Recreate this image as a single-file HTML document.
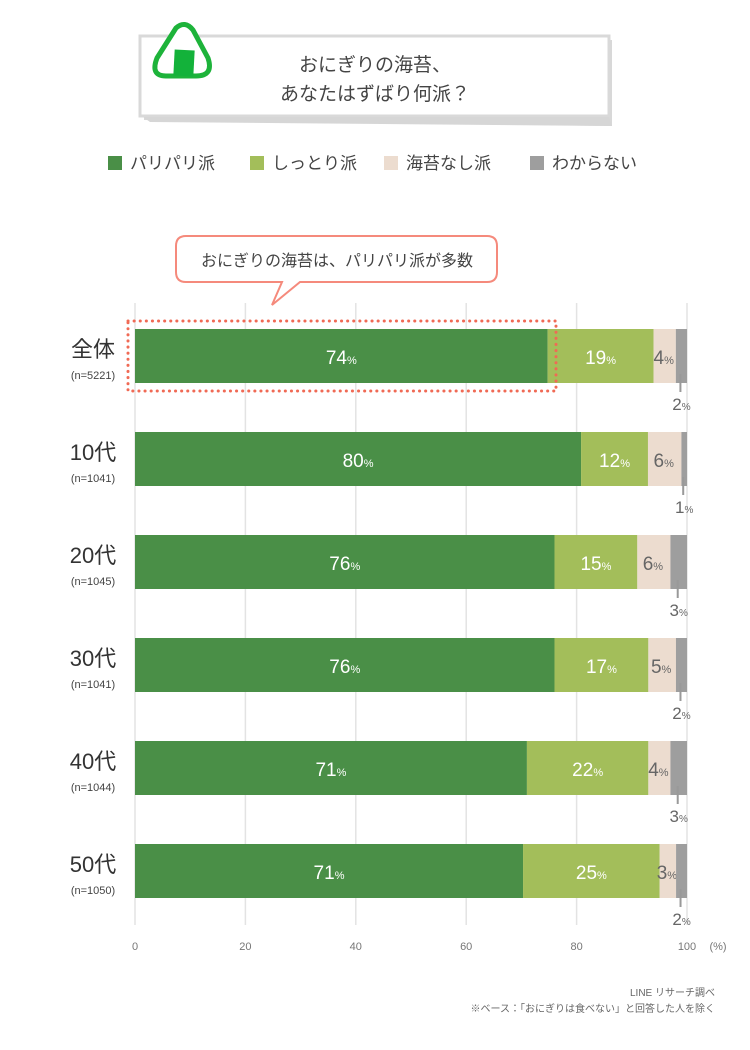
<!DOCTYPE html>
<html><head><meta charset="utf-8">
<style>
body{margin:0;background:#fff;font-family:"Liberation Sans","Noto Sans CJK JP",sans-serif;}
#wrap{position:relative;width:750px;height:1050px;overflow:hidden;}
</style></head>
<body>
<div id="wrap">
<svg id="svg" width="750" height="1050" xmlns="http://www.w3.org/2000/svg" font-family="Liberation Sans, Noto Sans CJK JP, sans-serif">
  <g>
    <polygon points="144,48 612,40 612,126 144,120" fill="#d8d8d8" transform="translate(0,0)"/>
    <rect x="140" y="36" width="469" height="80" fill="#fff" stroke="#d9d9d9" stroke-width="3"/>
    <polygon points="143,117 609,117 612,126 150,122" fill="#d6d6d6"/>
    <text x="375" y="71" text-anchor="middle" font-size="19" fill="#444">おにぎりの海苔、</text>
    <text x="375" y="100" text-anchor="middle" font-size="19" fill="#444">あなたはずばり何派？</text>
  </g>
  <g>
    <path d="M176,28 Q185,20 193,30 L208,58 Q214,76 196,76 L166,76 Q150,76 157,58 Z" fill="#fff" stroke="#1db33a" stroke-width="5" stroke-linejoin="round"/>
    <rect x="174" y="50" width="20" height="26" fill="#13b23a" transform="rotate(3 184 63)"/>
  </g>
  <g id="legend"></g>
  <g>
    <path d="M186,236 L487,236 Q497,236 497,246 L497,272 Q497,282 487,282 L300,282 L272,305 L282,282 L186,282 Q176,282 176,272 L176,246 Q176,236 186,236 Z" fill="#fff" stroke="#f58a7c" stroke-width="2"/>
    <text x="337" y="266" text-anchor="middle" font-size="16" fill="#444">おにぎりの海苔は、パリパリ派が多数</text>
  </g>
  <g id="grid"></g>
  <g id="bars"></g>
  <rect x="128" y="321" width="428" height="70" fill="none" stroke="#f06a55" stroke-width="3" stroke-dasharray="0.1 6" stroke-linecap="round"/>
  <g id="axis"></g>
  <text x="715" y="996" text-anchor="end" font-size="10" fill="#666">LINE リサーチ調べ</text>
  <text x="715" y="1012" text-anchor="end" font-size="10" fill="#666">※ベース：「おにぎりは食べない」と回答した人を除く</text>
</svg>
</div>
<script>
const categories=["全体","10代","20代","30代","40代","50代"];
const sampleSizes=["(n=5221)","(n=1041)","(n=1045)","(n=1041)","(n=1044)","(n=1050)"];
const seriesNames=["パリパリ派","しっとり派","海苔なし派","わからない"];
const paripari=[74,80,76,76,71,71];
const shittori=[19,12,15,17,22,25];
const norinashi=[4,6,6,5,4,3];
const wakaranai=[2,1,3,2,3,2];
const tickLabels=[0,20,40,60,80,100];
const colors=["#4a8f47","#a3be5a","#ecdccf","#9e9e9e"];
const NS="http://www.w3.org/2000/svg";
const x0=135,x1=687,rowTop=329,rowStep=103,barH=54;
function xs(v){return x0+(x1-x0)*v/100;}
function yr(i){return rowTop+i*rowStep;}
function mk(tag,attrs,parent){const e=document.createElementNS(NS,tag);for(const k in attrs)e.setAttribute(k,attrs[k]);parent.appendChild(e);return e;}
const grid=document.getElementById('grid'),axis=document.getElementById('axis'),bars=document.getElementById('bars'),legend=document.getElementById('legend');
tickLabels.forEach(t=>{
  const l=mk('line',{x1:xs(t),x2:xs(t),y1:303,y2:925,stroke:'#e3e3e3','stroke-width':1.5},grid);
  
  
  const tx=mk('text',{x:xs(t),y:950,'text-anchor':'middle','font-size':11,fill:'#777'},axis);
  tx.textContent=t;
  
  
});
const u=mk('text',{x:718,y:950,'text-anchor':'middle','font-size':11,fill:'#777'},axis);u.textContent='(%)';


const lx=[108,250,384,530];
seriesNames.forEach((n,i)=>{
  const g=mk('g',{},legend);
  
  
  mk('rect',{x:lx[i],y:156,width:14,height:14,fill:colors[i]},g);
  const t=mk('text',{x:lx[i]+22,y:169,'font-size':17,fill:'#444'},g);t.textContent=n;
});
const series=[paripari,shittori,norinashi,wakaranai];
categories.forEach((c,i)=>{
  const y=yr(i);
  const g=mk('g',{},bars);
  
  
  const a=mk('text',{x:93,y:y+28,'text-anchor':'middle','font-size':22,fill:'#333'},g);a.textContent=c;
  const b=mk('text',{x:93,y:y+50,'text-anchor':'middle','font-size':11,fill:'#444'},g);b.textContent=sampleSizes[i];
  const vals=series.map(s=>s[i]);const sum=vals.reduce((p,q)=>p+q,0);
  let cum=0;
  vals.forEach((v,k)=>{
    const s=cum/sum*100,e=(cum+v)/sum*100;cum+=v;
    const r=mk('rect',{x:xs(s),y:y,width:xs(e)-xs(s),height:barH,fill:colors[k]},g);
    
    
    const cx=(xs(s)+xs(e))/2;
    if(k<3){
      const t=mk('text',{x:cx+(k==2?-1:0),y:y+35,'text-anchor':'middle','font-size':k==2?19:19,fill:k==2?'#666':'#fff'},g);
      t.innerHTML=v+'<tspan font-size="11">%</tspan>';
    }else{
      mk('line',{x1:cx-1,x2:cx-1,y1:y+45,y2:y+63,stroke:'#999','stroke-width':2},g);
      const t=mk('text',{x:cx,y:y+81,'text-anchor':'middle','font-size':17,fill:'#666'},g);
      t.innerHTML=v+'<tspan font-size="10">%</tspan>';
    }
  });
});
</script>
</body></html>
